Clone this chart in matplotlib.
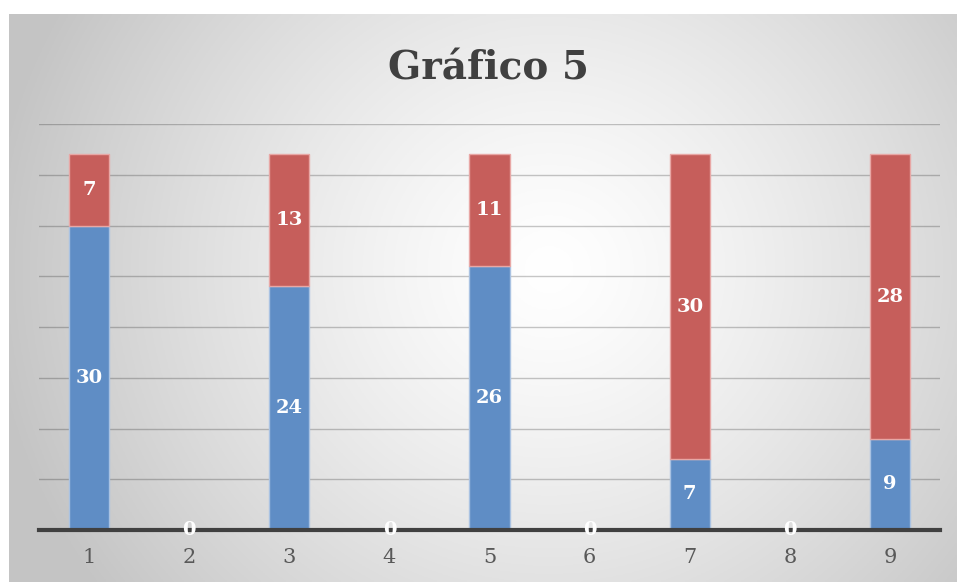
import numpy as np
import matplotlib
matplotlib.use("Agg")
import matplotlib.pyplot as plt

categories = ["1", "2", "3", "4", "5", "6", "7", "8", "9"]
serie_azul = [30, 0, 24, 0, 26, 0, 7, 0, 9]
serie_roja = [7, 0, 13, 0, 11, 0, 30, 0, 28]
title = "Gráfico 5"

W, H = 957, 582
fig = plt.figure(figsize=(W / 100, H / 100), dpi=100)
fig.patch.set_facecolor("white")

# background gradient (chart area)
bx0, by1 = 9 / W, (H - 14) / H
bg = fig.add_axes([bx0, 0, 1 - bx0, by1])
nx, ny = 400, 250
xx, yy = np.meshgrid(np.linspace(0, 1, nx), np.linspace(0, 1, ny))
cx, cy = 0.57, 0.55
r = np.sqrt(((xx - cx) * 1.6) ** 2 + ((yy - cy) * 1.0) ** 2)
r = np.clip(r / 0.95, 0, 1)
val = 1.0 - 0.23 * r ** 1.3
img = np.dstack([val, val, val])
bg.imshow(img, extent=[0, 1, 0, 1], aspect="auto", origin="lower")
bg.set_axis_off()

ax = fig.add_axes([39 / W, 52 / H, (940 - 39) / W, (530 - 124) / H])
ax.patch.set_alpha(0)
x = np.arange(len(categories))
b1 = ax.bar(x, serie_azul, width=0.4, color="#5F8DC5", edgecolor="#A9C2E2",
            linewidth=1, zorder=3)
b2 = ax.bar(x, serie_roja, width=0.4, bottom=serie_azul, color="#C65E5B",
            edgecolor="#E8A7A5", linewidth=1, zorder=3)

lab_kw = dict(label_type="center", color="white", fontsize=14,
              fontweight="bold", family="DejaVu Serif", zorder=5)
ax.bar_label(b1, labels=[str(v) for v in serie_azul], **lab_kw)
ax.bar_label(b2, labels=[str(v) if v else "" for v in serie_roja], **lab_kw)

ax.set_xlim(-0.5, len(categories) - 0.5)
ax.set_ylim(0, 40)
ax.set_yticks(np.arange(5, 41, 5))
ax.yaxis.grid(True, color="black", alpha=0.22, linewidth=1, zorder=0)
ax.tick_params(axis="y", left=False, labelleft=False)
ax.set_xticks(x)
ax.set_xticklabels(categories, fontsize=15, color="#595959", family="DejaVu Serif")
ax.tick_params(axis="x", length=0, pad=13)
for s in ["top", "right", "left"]:
    ax.spines[s].set_visible(False)
ax.spines["bottom"].set_color("#404040")
ax.spines["bottom"].set_linewidth(3)
ax.spines["bottom"].set_zorder(4)

fig.text(489 / W, (H - 68) / H, title, ha="center", va="center",
         fontsize=28, fontweight="bold", color="#404040", family="DejaVu Serif")

fig.savefig("out.png", dpi=100)
